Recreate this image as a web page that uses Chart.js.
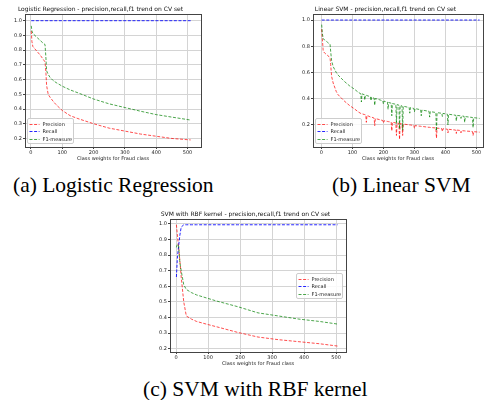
<!DOCTYPE html>
<html>
<head>
<meta charset="utf-8">
<script src="https://cdn.jsdelivr.net/npm/chart.js@4.4.1/dist/chart.umd.min.js"></script>
<style>
body { margin: 0; background: #fff; width: 487px; height: 400px; position: relative; overflow: hidden; }
.plot { position: absolute; }
.cap { position: absolute; font-family: "Liberation Serif", "DejaVu Serif", serif; font-size: 21.5px; line-height: 21.5px; color: #000; white-space: nowrap; }
</style>
</head>
<body>
<canvas id="chartA" class="plot" width="205" height="166" style="left:0;top:0"></canvas>
<canvas id="chartB" class="plot" width="199" height="166" style="left:288px;top:0"></canvas>
<canvas id="chartC" class="plot" width="205" height="166" style="left:145px;top:205px"></canvas>
<div class="cap" style="left:13px;top:175px">(a) Logistic Regression</div>
<div class="cap" style="left:332px;top:175px">(b) Linear SVM</div>
<div class="cap" style="left:143px;top:379px">(c) SVM with RBF kernel</div>
<script>
// (a) logistic regression
const xA = [1, 3, 6, 10, 20, 30, 40, 45, 48, 50, 55, 61, 70, 80, 100, 125, 150, 200, 250, 300, 350, 400, 450, 510];
const precA = [0.93, 0.86, 0.825, 0.815, 0.79, 0.765, 0.735, 0.72, 0.64, 0.56, 0.50, 0.48, 0.455, 0.43, 0.39, 0.355, 0.335, 0.30, 0.27, 0.25, 0.23, 0.215, 0.20, 0.19];
const f1A = [0.965, 0.93, 0.915, 0.905, 0.885, 0.865, 0.845, 0.838, 0.74, 0.66, 0.635, 0.615, 0.595, 0.58, 0.555, 0.53, 0.51, 0.468, 0.435, 0.41, 0.385, 0.362, 0.345, 0.325];
const recXA = [1, 510];
const recA = [1.0, 1.0];

// (b) linear svm, spiky after ~120
const xB = [1, 3, 6, 10, 15, 20, 25, 28, 30, 33, 38, 48, 54, 75, 90, 108,
  120, 127, 129, 131, 138, 140, 142, 143, 145, 147, 158, 160, 162, 170, 172, 174,
  190, 198, 200, 202, 213, 215, 217, 225, 227, 229, 240, 242, 244, 250, 252, 254, 260, 262, 264,
  283, 285, 287, 298, 300, 302, 320, 322, 324, 347, 349, 351, 369, 371, 373, 388, 390, 392,
  406, 408, 410, 433, 435, 437, 448, 450, 452, 460, 462, 464, 487, 489, 491, 510];
const precB = [0.93, 0.86, 0.76, 0.75, 0.74, 0.73, 0.72, 0.71, 0.66, 0.57, 0.52, 0.455, 0.43, 0.38, 0.35, 0.32,
  0.298, 0.288, 0.287, 0.285, 0.28, 0.279, 0.277, 0.276, 0.22, 0.273, 0.261, 0.261, 0.26, 0.252, 0.195, 0.249,
  0.239, 0.234, 0.215, 0.232, 0.227, 0.226, 0.225, 0.222, 0.155, 0.22, 0.216, 0.12, 0.214, 0.212, 0.09, 0.211, 0.208, 0.12, 0.207,
  0.201, 0.2, 0.2, 0.196, 0.175, 0.195, 0.19, 0.189, 0.189, 0.182, 0.182, 0.181, 0.177, 0.10, 0.176, 0.172, 0.15, 0.171,
  0.168, 0.14, 0.167, 0.161, 0.135, 0.161, 0.158, 0.14, 0.157, 0.155, 0.155, 0.154, 0.15, 0.12, 0.149, 0.145];
const f1B = [0.965, 0.90, 0.855, 0.85, 0.84, 0.83, 0.82, 0.815, 0.76, 0.69, 0.645, 0.60, 0.58, 0.53, 0.50, 0.47,
  0.447, 0.438, 0.375, 0.437, 0.431, 0.39, 0.428, 0.427, 0.426, 0.424, 0.415, 0.385, 0.412, 0.405, 0.35, 0.402,
  0.39, 0.384, 0.36, 0.382, 0.374, 0.32, 0.371, 0.366, 0.27, 0.363, 0.358, 0.21, 0.355, 0.351, 0.17, 0.349, 0.345, 0.16, 0.343,
  0.333, 0.29, 0.332, 0.326, 0.30, 0.325, 0.316, 0.27, 0.314, 0.304, 0.26, 0.302, 0.295, 0.155, 0.294, 0.289, 0.265, 0.288,
  0.283, 0.20, 0.282, 0.274, 0.23, 0.273, 0.27, 0.25, 0.269, 0.266, 0.22, 0.264, 0.257, 0.18, 0.256, 0.25];
const recXB = [1, 510];
const recB = [1.0, 1.0];

// (c) rbf svm
const xC = [1, 4, 8, 12, 16, 24, 32, 48, 64, 96, 128, 192, 256, 320, 384, 448, 505];
const precC = [0.995, 0.93, 0.85, 0.76, 0.66, 0.50, 0.41, 0.39, 0.375, 0.357, 0.34, 0.305, 0.275, 0.258, 0.245, 0.232, 0.217];
const recC = [0.66, 0.78, 0.86, 0.93, 0.98, 0.995, 0.995, 0.995, 0.995, 0.995, 0.995, 0.995, 0.995, 0.995, 0.995, 0.995, 0.995];
const f1C = [0.85, 0.87, 0.86, 0.75, 0.70, 0.61, 0.58, 0.56, 0.545, 0.525, 0.505, 0.47, 0.43, 0.41, 0.39, 0.375, 0.358];

const FONT = 'DejaVu Sans';
const TXT = '#222';

// matplotlib style frame + legend box inside the axes
const mplBox = {
  id: 'mplBox',
  afterDatasetsDraw(chart, args, opts) {
    const a = chart.chartArea, ctx = chart.ctx;
    ctx.save();
    ctx.strokeStyle = '#444';
    ctx.lineWidth = 1;
    ctx.strokeRect(Math.round(a.left) + 0.5, Math.round(a.top) + 0.5, Math.round(a.right - a.left), Math.round(a.bottom - a.top));
    const w = 46, h = 25;
    let x0, y0;
    if (opts.loc === 'center right') {
      x0 = a.right - 4 - w;
      y0 = (a.top + a.bottom) / 2 - h / 2;
    } else {
      x0 = a.left + 2;
      y0 = a.bottom - 4 - h;
    }
    x0 = Math.round(x0) + 0.5;
    y0 = Math.round(y0) + 0.5;
    ctx.fillStyle = 'rgba(255,255,255,0.85)';
    ctx.strokeStyle = 'rgba(205,205,205,1)';
    ctx.beginPath();
    ctx.roundRect(x0, y0, w, h, 1.5);
    ctx.fill();
    ctx.stroke();
    ctx.font = '5px "' + FONT + '"';
    ctx.textBaseline = 'middle';
    chart.data.datasets.forEach((ds, i) => {
      const y = Math.round(y0 + 5 + i * 7.5) + 0.5;
      ctx.strokeStyle = ds.borderColor;
      ctx.setLineDash([3, 1.6]);
      ctx.beginPath();
      ctx.moveTo(x0 + 2, y);
      ctx.lineTo(x0 + 12, y);
      ctx.stroke();
      ctx.setLineDash([]);
      ctx.fillStyle = TXT;
      ctx.fillText(ds.label, x0 + 15, y);
    });
    ctx.restore();
  }
};

function pts(xs, ys) {
  return xs.map((x, i) => ({ x: x, y: ys[i] }));
}

function makeChart(id, title, series, xr, yr, yStep, loc) {
  const tickFont = { family: FONT, size: 5 };
  return new Chart(document.getElementById(id), {
    type: 'line',
    data: {
      datasets: [
        { label: 'Precision', data: pts(series[0][0], series[0][1]), borderColor: 'rgba(255,0,0,0.7)', order: 2 },
        { label: 'Recall', data: pts(series[1][0], series[1][1]), borderColor: 'rgba(0,0,255,0.85)', order: 1 },
        { label: 'F1-measure', data: pts(series[2][0], series[2][1]), borderColor: 'rgba(0,128,0,0.7)', order: 0 }
      ]
    },
    options: {
      responsive: false,
      animation: false,
      datasets: { line: { borderWidth: 1, borderDash: [3, 1.6], pointRadius: 0, fill: false, tension: 0 } },
      layout: { padding: { left: 0, right: 4, top: 0, bottom: 0 } },
      plugins: {
        legend: { display: false },
        tooltip: { enabled: false },
        title: {
          display: true, text: title, color: '#111',
          font: { family: FONT, size: 6, weight: 'normal' },
          padding: { top: 5.4, bottom: 1.4 }
        },
        mplBox: { loc: loc }
      },
      scales: {
        x: {
          type: 'linear', min: xr[0], max: xr[1],
          afterFit: s => { s.height = 19; },
          ticks: { stepSize: 100, includeBounds: false, autoSkip: false, maxRotation: 0, font: tickFont, color: TXT, padding: 1 },
          grid: { color: '#d4d4d4', tickLength: 2, tickColor: '#444' },
          border: { color: '#444' },
          title: { display: true, text: 'Class weights for Fraud class', font: tickFont, color: TXT, padding: { top: 0, bottom: 4 } }
        },
        y: {
          type: 'linear', min: yr[0], max: yr[1],
          afterFit: s => { s.width = 25; },
          ticks: { stepSize: yStep, includeBounds: false, autoSkip: false, font: tickFont, color: TXT, padding: 1,
            callback: v => v.toFixed(1) },
          grid: { color: '#d4d4d4', tickLength: 2, tickColor: '#444' },
          border: { color: '#444' }
        }
      }
    },
    plugins: [mplBox]
  });
}

makeChart('chartA', 'Logistic Regression - precision,recall,f1 trend on CV set',
  [[xA, precA], [recXA, recA], [xA, f1A]], [-19, 543], [0.142, 1.0455], 0.1, 'lower left');
makeChart('chartB', 'Linear SVM - precision,recall,f1 trend on CV set',
  [[xB, precB], [recXB, recB], [xB, f1B]], [-27, 521], [0.032, 1.046], 0.2, 'lower left');
makeChart('chartC', 'SVM with RBF kernel - precision,recall,f1 trend on CV set',
  [[xC, precC], [xC, recC], [xC, f1C]], [-19, 531], [0.179, 1.032], 0.1, 'center right');
</script>
</body>
</html>
